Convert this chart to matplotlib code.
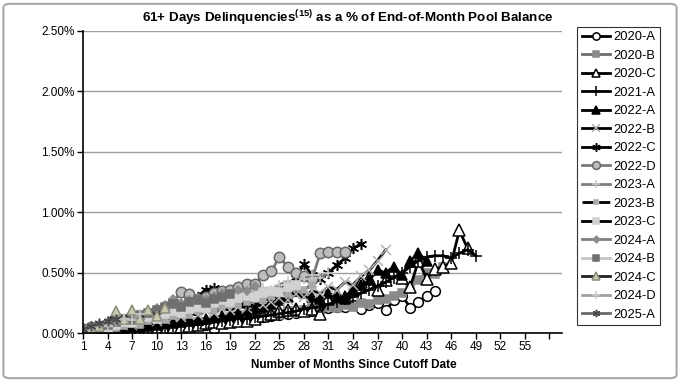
import matplotlib
matplotlib.use("Agg")
import matplotlib.pyplot as plt
from matplotlib.patches import FancyBboxPatch

plt.rcParams["font.family"] = ["Liberation Sans", "DejaVu Sans"]
plt.rcParams["mathtext.fontset"] = "custom"
plt.rcParams["mathtext.rm"] = "Liberation Sans"
plt.rcParams["mathtext.bf"] = "Liberation Sans:bold"

# 61+ day delinquency (% of pool balance) by month since cutoff, per deal
s2020_a = [0.03, 0.02, 0.03, 0.03, 0.04, 0.04, 0.05, 0.05, 0.06, 0.05, 0.06, 0.07, 0.07, 0.08, 0.08, 0.07,
           0.03, 0.08, 0.09, 0.10, 0.11, 0.12, 0.13, 0.14, 0.15, 0.16, 0.17, 0.19, 0.18, 0.20, 0.21, 0.22,
           0.22, 0.23, 0.20, 0.23, 0.25, 0.19, 0.27, 0.31, 0.21, 0.26, 0.31, 0.35]
s2020_b = [0.01, 0.02, 0.02, 0.03, 0.03, 0.04, 0.05, 0.04, 0.06, 0.06, 0.05, 0.07, 0.08, 0.07, 0.09, 0.08,
           0.10, 0.09, 0.11, 0.10, 0.12, 0.14, 0.13, 0.16, 0.15, 0.18, 0.17, 0.19, 0.21, 0.19, 0.22, 0.21,
           0.23, 0.22, 0.25, 0.24, 0.27, 0.28, 0.31, 0.33, 0.38, 0.44, 0.50, 0.49, 0.55]
s2020_c = [0.01, 0.01, 0.02, 0.02, 0.02, 0.02, 0.02, 0.03, 0.03, 0.03, 0.02, 0.04, 0.05, 0.06, 0.07, 0.08,
           0.09, 0.08, 0.09, 0.10, 0.10, 0.12, 0.14, 0.16, 0.18, 0.19, 0.20, 0.18, 0.20, 0.16, 0.28, 0.32,
           0.30, 0.36, 0.42, 0.46, 0.36, 0.44, 0.52, 0.46, 0.38, 0.60, 0.45, 0.53, 0.55, 0.58, 0.85, 0.70]
s2021_a = [0.00, 0.01, 0.01, 0.02, 0.02, 0.03, 0.03, 0.04, 0.04, 0.05, 0.05, 0.06, 0.06, 0.07, 0.07, 0.08,
           0.09, 0.10, 0.11, 0.12, 0.12, 0.13, 0.14, 0.15, 0.16, 0.17, 0.18, 0.20, 0.21, 0.22, 0.24, 0.26,
           0.28, 0.30, 0.33, 0.36, 0.39, 0.42, 0.46, 0.50, 0.55, 0.60, 0.63, 0.64, 0.64, 0.62, 0.66, 0.69, 0.64]
s2022_a = [0.01, 0.01, 0.02, 0.02, 0.03, 0.04, 0.05, 0.05, 0.06, 0.07, 0.08, 0.08, 0.09, 0.10, 0.11, 0.12,
           0.13, 0.14, 0.16, 0.17, 0.18, 0.20, 0.22, 0.24, 0.27, 0.30, 0.35, 0.33, 0.30, 0.28, 0.33, 0.30,
           0.28, 0.36, 0.40, 0.44, 0.52, 0.50, 0.55, 0.48, 0.60, 0.66, 0.60]
s2022_b = [0.02, 0.03, 0.05, 0.04, 0.06, 0.08, 0.07, 0.09, 0.11, 0.10, 0.12, 0.14, 0.13, 0.16, 0.15, 0.18,
           0.17, 0.20, 0.19, 0.22, 0.21, 0.24, 0.23, 0.26, 0.29, 0.27, 0.32, 0.30, 0.35, 0.33, 0.38, 0.36,
           0.42, 0.40, 0.47, 0.52, 0.60, 0.69]
s2022_c = [0.01, 0.02, 0.03, 0.04, 0.05, 0.06, 0.07, 0.08, 0.10, 0.12, 0.14, 0.16, 0.20, 0.25, 0.30, 0.36,
           0.37, 0.30, 0.28, 0.26, 0.24, 0.22, 0.30, 0.32, 0.36, 0.40, 0.46, 0.57, 0.48, 0.45, 0.50, 0.56,
           0.62, 0.70, 0.74]
s2022_d = [0.03, 0.05, 0.06, 0.07, 0.08, 0.10, 0.12, 0.14, 0.16, 0.18, 0.22, 0.26, 0.34, 0.32, 0.28, 0.30,
           0.33, 0.35, 0.36, 0.38, 0.41, 0.41, 0.48, 0.51, 0.63, 0.55, 0.50, 0.47, 0.45, 0.66, 0.67, 0.67, 0.67]
s2023_a = [0.02, 0.04, 0.05, 0.07, 0.08, 0.10, 0.09, 0.12, 0.14, 0.13, 0.17, 0.19, 0.18, 0.22, 0.24, 0.23,
           0.27, 0.29, 0.28, 0.32, 0.31, 0.35, 0.37, 0.36, 0.40, 0.43, 0.41, 0.45, 0.48, 0.46, 0.50]
s2023_b = [0.01, 0.02, 0.03, 0.05, 0.04, 0.06, 0.08, 0.07, 0.10, 0.12, 0.11, 0.14, 0.16, 0.15, 0.18, 0.20,
           0.19, 0.22, 0.24, 0.23, 0.26, 0.28, 0.27, 0.31, 0.33, 0.32, 0.37, 0.36, 0.40]
s2023_c = [0.02, 0.03, 0.05, 0.04, 0.07, 0.09, 0.08, 0.11, 0.13, 0.12, 0.16, 0.18, 0.17, 0.20, 0.22, 0.21,
           0.25, 0.27, 0.26, 0.29, 0.31, 0.30, 0.33, 0.35, 0.34, 0.38, 0.40]
s2024_a = [0.02, 0.04, 0.06, 0.08, 0.10, 0.12, 0.15, 0.14, 0.18, 0.21, 0.23, 0.28, 0.25, 0.27, 0.29, 0.28,
           0.31, 0.33, 0.32, 0.36, 0.35, 0.39]
s2024_b = [0.02, 0.03, 0.05, 0.07, 0.09, 0.12, 0.11, 0.15, 0.17, 0.19, 0.22, 0.24, 0.22, 0.26, 0.27, 0.25,
           0.28, 0.30, 0.32]
s2024_c = [0.02, 0.04, 0.06, 0.09, 0.18, 0.12, 0.19, 0.12, 0.19, 0.14, 0.21]
s2024_d = [0.02, 0.04, 0.07, 0.06, 0.10, 0.12, 0.11, 0.16]
s2025_a = [0.03, 0.06, 0.08, 0.10, 0.12]

series = {
    "2020-A": s2020_a, "2020-B": s2020_b, "2020-C": s2020_c, "2021-A": s2021_a,
    "2022-A": s2022_a, "2022-B": s2022_b, "2022-C": s2022_c, "2022-D": s2022_d,
    "2023-A": s2023_a, "2023-B": s2023_b, "2023-C": s2023_c, "2024-A": s2024_a,
    "2024-B": s2024_b, "2024-C": s2024_c, "2024-D": s2024_d, "2025-A": s2025_a,
}

star = (6, 2, 0)
# label: (line colour, linestyle, marker, face, edge, marker size)
styles = {
    "2020-A": ("black", "-", "o", "white", "black", 7),
    "2020-B": ("#6e6e6e", "-", "s", "#8a8a8a", "#8a8a8a", 6),
    "2020-C": ("black", "-", "^", "white", "black", 8),
    "2021-A": ("black", "-", "+", "black", "black", 9),
    "2022-A": ("black", "-", "^", "black", "black", 7),
    "2022-B": ("black", "-", "x", "#b4b4b4", "#b4b4b4", 7),
    "2022-C": ("black", "-", star, "black", "black", 8),
    "2022-D": ("#7a7a7a", "-", "o", "#bdbdbd", "#666666", 7.5),
    "2023-A": ("#7f7f7f", "-", "+", "#c8c8c8", "#c8c8c8", 7),
    "2023-B": ("black", (0, (4, 2)), "s", "#a8a8a8", "#a8a8a8", 4),
    "2023-C": ("black", "-", "s", "#d2d2d2", "#d2d2d2", 5.5),
    "2024-A": ("#7f7f7f", "-", "D", "#8c8c8c", "#8c8c8c", 4.5),
    "2024-B": ("#c4c4c4", "-", "s", "#6f6f6f", "#6f6f6f", 6),
    "2024-C": ("#222222", "-", "^", "#c9c9b2", "#8d8d7c", 7),
    "2024-D": ("#a0a0a0", "-", "+", "#c8c8c8", "#c8c8c8", 7),
    "2025-A": ("#6a6a6a", "-", star, "#4a4a4a", "#4a4a4a", 7),
}

fig = plt.figure(figsize=(6.8, 3.82), dpi=100)
ax = fig.add_axes([0.122, 0.128, 0.704, 0.791])

for name, vals in series.items():
    col, ls, mk, fc, ec, ms = styles[name]
    months = list(range(1, len(vals) + 1))
    ax.plot(months, vals, color=col, linestyle=ls, linewidth=2.0, marker=mk,
            markerfacecolor=fc, markeredgecolor=ec, markersize=ms, markeredgewidth=1.1,
            label=name)

ax.set_xlim(1, 59.5)
ax.set_ylim(0, 2.5)
xt = list(range(1, 59, 3))
ax.set_xticks(xt)
ax.set_xticklabels([str(t) if t <= 55 else "" for t in xt])
yt = [0, 0.5, 1.0, 1.5, 2.0, 2.5]
ax.set_yticks(yt)
ax.set_yticklabels([f"{v:.2f}%" for v in yt])
ax.tick_params(axis="both", labelsize=8.5, length=4, width=1, color="black", pad=2)
ax.grid(axis="y", color="#9e9e9e", linewidth=1)
ax.set_axisbelow(True)
for sp in ["top", "right"]:
    ax.spines[sp].set_visible(False)
for sp in ["left", "bottom"]:
    ax.spines[sp].set_color("black")
    ax.spines[sp].set_linewidth(1.2)

fig.text(0.511, 0.953, r"61+ Days Delinquencies$^{\mathbf{(15)}}$ as a % of End-of-Month Pool Balance",
         ha="center", va="center", fontsize=9.6, fontweight="bold")
fig.text(0.52, 0.045, "Number of Months Since Cutoff Date", ha="center", va="center",
         fontsize=8.5, fontweight="bold")

leg = fig.legend(loc="upper left", bbox_to_anchor=(0.849, 0.93), fontsize=9.3, frameon=True,
                 fancybox=False, edgecolor="black", handlelength=2.2, handletextpad=0.2,
                 labelspacing=0.5, borderpad=0.35, borderaxespad=0, markerscale=0.75)
leg.get_frame().set_linewidth(0.8)

border = FancyBboxPatch((0.005, 0.01), 0.99, 0.98, boxstyle="round,pad=0,rounding_size=0.01",
                        transform=fig.transFigure, fill=False, edgecolor="#a8a8a8", linewidth=1.5)
fig.patches.append(border)

fig.savefig("out.png", dpi=100)
